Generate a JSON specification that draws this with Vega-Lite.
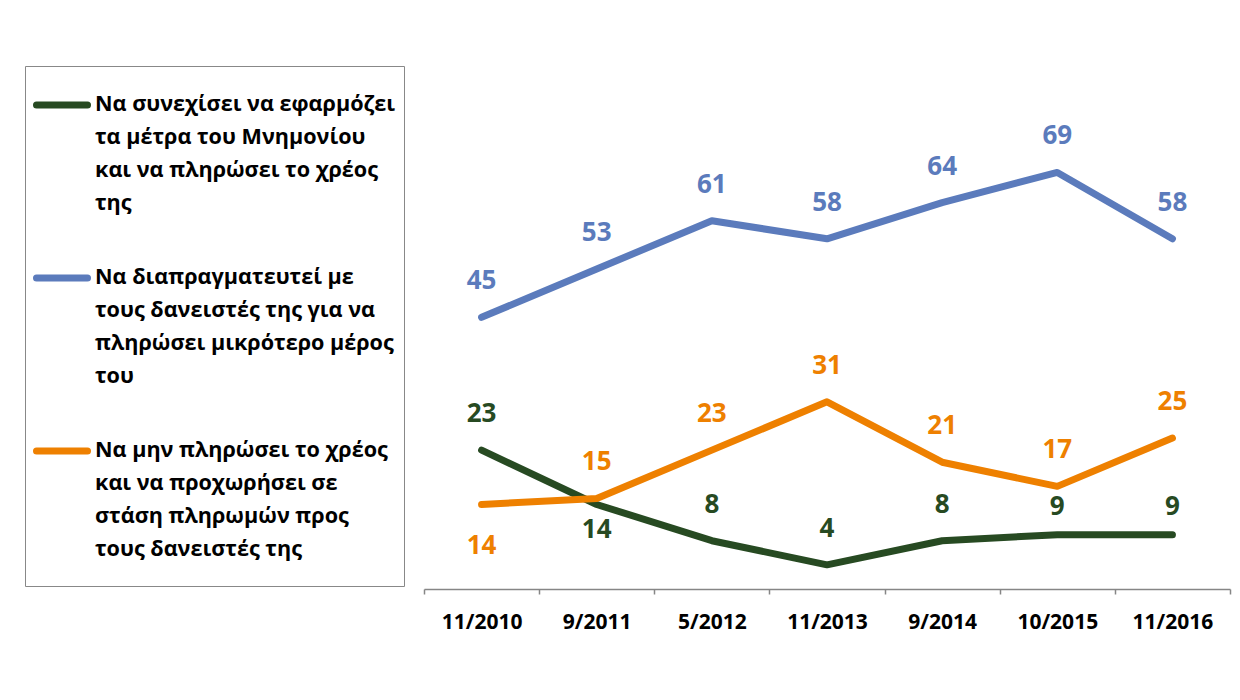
{
  "$schema": "https://vega.github.io/schema/vega-lite/v6.json",
  "width": 806,
  "height": 483,
  "autosize": {"type": "none"},
  "padding": {"left": 424, "top": 106, "right": 10, "bottom": 111},
  "background": "white",
  "config": {"view": {"stroke": null}, "font": "Open Sans"},
  "data": {
    "values": [
      {"date": "11/2010", "series": "Να συνεχίσει να εφαρμόζει τα μέτρα του Μνημονίου και να πληρώσει το χρέος της", "value": 23},
      {"date": "9/2011", "series": "Να συνεχίσει να εφαρμόζει τα μέτρα του Μνημονίου και να πληρώσει το χρέος της", "value": 14},
      {"date": "5/2012", "series": "Να συνεχίσει να εφαρμόζει τα μέτρα του Μνημονίου και να πληρώσει το χρέος της", "value": 8},
      {"date": "11/2013", "series": "Να συνεχίσει να εφαρμόζει τα μέτρα του Μνημονίου και να πληρώσει το χρέος της", "value": 4},
      {"date": "9/2014", "series": "Να συνεχίσει να εφαρμόζει τα μέτρα του Μνημονίου και να πληρώσει το χρέος της", "value": 8},
      {"date": "10/2015", "series": "Να συνεχίσει να εφαρμόζει τα μέτρα του Μνημονίου και να πληρώσει το χρέος της", "value": 9},
      {"date": "11/2016", "series": "Να συνεχίσει να εφαρμόζει τα μέτρα του Μνημονίου και να πληρώσει το χρέος της", "value": 9},
      {"date": "11/2010", "series": "Να διαπραγματευτεί με τους δανειστές της για να πληρώσει μικρότερο μέρος του", "value": 45},
      {"date": "9/2011", "series": "Να διαπραγματευτεί με τους δανειστές της για να πληρώσει μικρότερο μέρος του", "value": 53},
      {"date": "5/2012", "series": "Να διαπραγματευτεί με τους δανειστές της για να πληρώσει μικρότερο μέρος του", "value": 61},
      {"date": "11/2013", "series": "Να διαπραγματευτεί με τους δανειστές της για να πληρώσει μικρότερο μέρος του", "value": 58},
      {"date": "9/2014", "series": "Να διαπραγματευτεί με τους δανειστές της για να πληρώσει μικρότερο μέρος του", "value": 64},
      {"date": "10/2015", "series": "Να διαπραγματευτεί με τους δανειστές της για να πληρώσει μικρότερο μέρος του", "value": 69},
      {"date": "11/2016", "series": "Να διαπραγματευτεί με τους δανειστές της για να πληρώσει μικρότερο μέρος του", "value": 58},
      {"date": "11/2010", "series": "Να μην πληρώσει το χρέος και να προχωρήσει σε στάση πληρωμών προς τους δανειστές της", "value": 14},
      {"date": "9/2011", "series": "Να μην πληρώσει το χρέος και να προχωρήσει σε στάση πληρωμών προς τους δανειστές της", "value": 15},
      {"date": "5/2012", "series": "Να μην πληρώσει το χρέος και να προχωρήσει σε στάση πληρωμών προς τους δανειστές της", "value": 23},
      {"date": "11/2013", "series": "Να μην πληρώσει το χρέος και να προχωρήσει σε στάση πληρωμών προς τους δανειστές της", "value": 31},
      {"date": "9/2014", "series": "Να μην πληρώσει το χρέος και να προχωρήσει σε στάση πληρωμών προς τους δανειστές της", "value": 21},
      {"date": "10/2015", "series": "Να μην πληρώσει το χρέος και να προχωρήσει σε στάση πληρωμών προς τους δανειστές της", "value": 17},
      {"date": "11/2016", "series": "Να μην πληρώσει το χρέος και να προχωρήσει σε στάση πληρωμών προς τους δανειστές της", "value": 25}
    ]
  },
  "encoding": {
    "x": {
      "field": "date",
      "type": "ordinal",
      "sort": ["11/2010", "9/2011", "5/2012", "11/2013", "9/2014", "10/2015", "11/2016"],
      "bandPosition": 0.5,
      "scale": {"type": "band", "paddingInner": 0, "paddingOuter": 0},
      "axis": {
        "title": null,
        "labelAngle": 0,
        "tickBand": "extent",
        "domainColor": "#868686",
        "domainWidth": 1.5,
        "tickColor": "#868686",
        "tickWidth": 1.5,
        "tickSize": 5,
        "labelFont": "Open Sans",
        "labelFontSize": 21,
        "labelFontWeight": "bold",
        "labelColor": "#000000",
        "labelPadding": 17,
        "labelBaseline": "top"
      }
    },
    "y": {
      "field": "value",
      "type": "quantitative",
      "scale": {"domain": [0, 80], "nice": false, "zero": true},
      "axis": null
    },
    "color": {
      "field": "series",
      "type": "nominal",
      "scale": {
        "domain": [
          "Να συνεχίσει να εφαρμόζει τα μέτρα του Μνημονίου και να πληρώσει το χρέος της",
          "Να διαπραγματευτεί με τους δανειστές της για να πληρώσει μικρότερο μέρος του",
          "Να μην πληρώσει το χρέος και να προχωρήσει σε στάση πληρωμών προς τους δανειστές της"
        ],
        "range": ["#274A22", "#5B7BBC", "#EE8000"]
      }
    }
  },
  "layer": [
    {
      "mark": {"type": "line", "strokeWidth": 7, "strokeCap": "round", "strokeJoin": "round"},
      "encoding": {
        "color": {
          "field": "series",
          "type": "nominal",
          "legend": {
            "orient": "none",
            "legendX": -399,
            "legendY": -40,
            "title": " ",
            "titleOrient": "bottom",
            "titleFontSize": 12,
            "titlePadding": 6,
            "padding": 8,
            "strokeColor": "#888888",
            "fillColor": "white",
            "symbolType": "stroke",
            "symbolSize": 2601,
            "symbolStrokeWidth": 7,
            "labelOffset": 4,
            "labelFont": "Open Sans",
            "labelFontSize": 21.6,
            "labelFontWeight": "bold",
            "labelColor": "#000000",
            "labelLimit": 0,
            "labelBaseline": "top",
            "rowPadding": 32,
            "labelExpr": "indexof(datum.label, 'συνεχίσει') >= 0 ? ['Να συνεχίσει να εφαρμόζει', 'τα μέτρα του Μνημονίου', 'και να πληρώσει το χρέος', 'της'] : indexof(datum.label, 'διαπραγματευτεί') >= 0 ? ['Να διαπραγματευτεί με', 'τους δανειστές της για να', 'πληρώσει μικρότερο μέρος', 'του'] : ['Να μην πληρώσει το χρέος', 'και να προχωρήσει σε', 'στάση πληρωμών προς', 'τους δανειστές της']",
            "encode": {
              "symbols": {"update": {"strokeCap": {"value": "round"}, "y": {"value": 31}}},
              "labels": {"update": {"y": {"value": 20}, "lineHeight": {"value": 33}}}
            }
          }
        }
      }
    },
    {
      "transform": [{"filter": "!(indexof(datum.series, 'συνεχίσει') >= 0 && (datum.date == '9/2011' || datum.value == 9)) && !(indexof(datum.series, 'μην') >= 0 && datum.date == '11/2010')"}],
      "mark": {"type": "text", "dy": -36, "font": "Open Sans", "fontSize": 26, "fontWeight": "bold", "baseline": "middle", "align": "center"},
      "encoding": {"text": {"field": "value", "type": "quantitative"}}
    },
    {
      "transform": [{"filter": "indexof(datum.series, 'συνεχίσει') >= 0 && datum.value == 9"}],
      "mark": {"type": "text", "dy": -28, "font": "Open Sans", "fontSize": 26, "fontWeight": "bold", "baseline": "middle", "align": "center"},
      "encoding": {"text": {"field": "value", "type": "quantitative"}}
    },
    {
      "transform": [{"filter": "indexof(datum.series, 'συνεχίσει') >= 0 && datum.date == '9/2011'"}],
      "mark": {"type": "text", "dy": 26, "font": "Open Sans", "fontSize": 26, "fontWeight": "bold", "baseline": "middle", "align": "center"},
      "encoding": {"text": {"field": "value", "type": "quantitative"}}
    },
    {
      "transform": [{"filter": "indexof(datum.series, 'μην') >= 0 && datum.date == '11/2010'"}],
      "mark": {"type": "text", "dy": 42, "font": "Open Sans", "fontSize": 26, "fontWeight": "bold", "baseline": "middle", "align": "center"},
      "encoding": {"text": {"field": "value", "type": "quantitative"}}
    }
  ]
}
